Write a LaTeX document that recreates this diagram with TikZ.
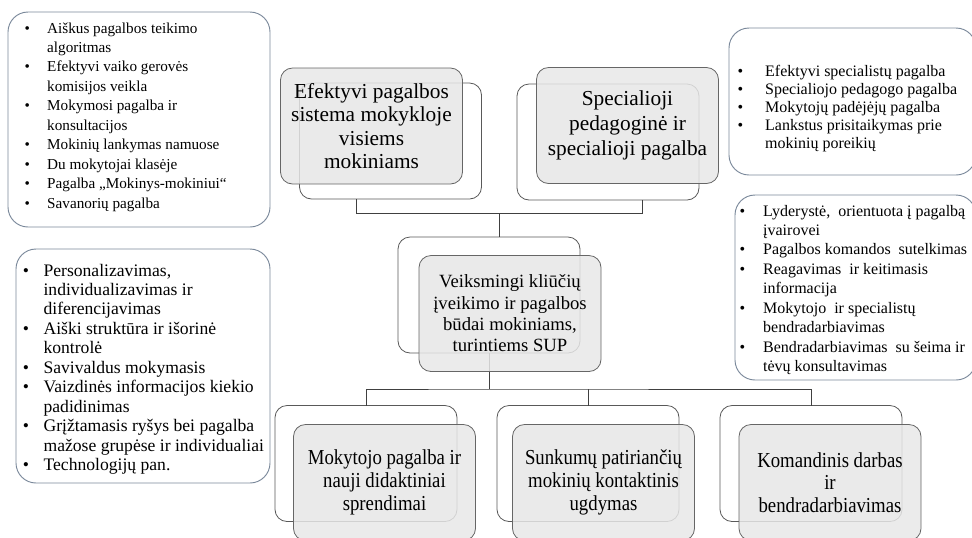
\documentclass[tikz,border=0pt]{standalone}
\usepackage{fontspec}
\setmainfont{Liberation Serif}
\newfontfamily\condserif[FakeStretch=0.88]{Liberation Serif}
\usetikzlibrary{calc}

\definecolor{listedge}{RGB}{122,136,154}
\definecolor{boxfill}{RGB}{231,231,231}

\tikzset{
	lobox/.style={draw=black!65, fill=white, rounded corners=9pt, line width=0.6pt,
		minimum width=136.5pt, minimum height=87pt, outer sep=0pt},
	hibox/.style={draw=black!60, fill=boxfill, fill opacity=0.85, text opacity=1,
		rounded corners=9pt, line width=0.6pt, minimum width=136.5pt, minimum height=87pt,
		align=center, inner sep=2pt, outer sep=0pt},
	listbox/.style={draw=listedge, line width=0.7pt, rounded corners=15pt},
	listtext/.style={inner sep=0pt, anchor=base west, font=\fontsize{11.4}{14.6}\selectfont},
	link/.style={draw=black!75, line width=0.7pt}
}

\begin{document}
\begin{tikzpicture}[x=0.75pt, y=-0.75pt]
			%%%%% START %%%%%
			\useasboundingbox (0,0) rectangle (972,537);
			
			\draw[listbox] (8,12) rectangle (270,227);
			\node[listtext] (lstA) at (24.3,33) {\begin{tabular}[t]{@{}l@{\hspace{13pt}}l@{}}
				\textbullet & Aiškus pagalbos teikimo\\
				& algoritmas\\
				\textbullet & Efektyvi vaiko gerovės\\
				& komisijos veikla\\
				\textbullet & Mokymosi pagalba ir\\
				& konsultacijos\\
				\textbullet & Mokinių lankymas namuose\\
				\textbullet & Du mokytojai klasėje\\
				\textbullet & Pagalba „Mokinys-mokiniui“\\
				\textbullet & Savanorių pagalba
			\end{tabular}};
			
			\draw[listbox] (16,249) rectangle (270,483);
			\node[listtext, font=\fontsize{13.2}{14.6}\selectfont] (lstB) at (22.5,276) {\begin{tabular}[t]{@{}l@{\hspace{11pt}}l@{}}
				\textbullet & Personalizavimas,\\
				& individualizavimas ir\\
				& diferencijavimas\\
				\textbullet & Aiški struktūra ir išorinė\\
				& kontrolė\\
				\textbullet & Savivaldus mokymasis\\
				\textbullet & Vaizdinės informacijos kiekio\\
				& padidinimas\\
				\textbullet & Grįžtamasis ryšys bei pagalba\\
				& mažose grupėse ir individualiai\\
				\textbullet & Technologijų pan.
			\end{tabular}};
			
			\draw[listbox] (729,28) rectangle (976,175);
			\node[listtext, font=\fontsize{12}{13.5}\selectfont] (lstC) at (737.3,76) {\begin{tabular}[t]{@{}l@{\hspace{16.5pt}}l@{}}
				\textbullet & Efektyvi specialistų pagalba\\
				\textbullet & Specialiojo pedagogo pagalba\\
				\textbullet & Mokytojų padėjėjų pagalba\\
				\textbullet & Lankstus prisitaikymas prie\\
				& mokinių poreikių
			\end{tabular}};
			
			\draw[listbox] (735,195) rectangle (976,380);
			\node[listtext, font=\fontsize{12}{14.6}\selectfont] (lstD) at (739.3,216) {\begin{tabular}[t]{@{}l@{\hspace{13.5pt}}l@{}}
				\textbullet & Lyderystė,\ \ orientuota į pagalbą\\
				& įvairovei\\
				\textbullet & Pagalbos komandos\ \ sutelkimas\\
				\textbullet & Reagavimas\ \ ir keitimasis\\
				& informacija\\
				\textbullet & Mokytojo\ \ ir specialistų\\
				& bendradarbiavimas\\
				\textbullet & Bendradarbiavimas\ \ su šeima ir\\
				& tėvų konsultavimas
			\end{tabular}};
			
			% back boxes
			\node[lobox] (efout) at (390.5,141) {};
			\node[lobox] (spout) at (608,142) {};
			\node[lobox] (vkout) at (489,295) {};
			\node[lobox] (b1out) at (366,463.5) {};
			\node[lobox] (b2out) at (588,463.5) {};
			\node[lobox] (b3out) at (811,463.5) {};
			
			% connectors
			\coordinate (tl) at (356,213);
			\coordinate (tr) at (642,213);
			\coordinate (tj) at (499,213);
			\coordinate (bj) at (489,389);
			\draw[link] (efout.south -| tl) -- (tl) -- (tr) -- (spout.south -| tr);
			\draw[link] (tj) -- (vkout.north -| tj);
			\draw[link] (vkout.south) -- (bj);
			\draw[link] (b1out.north) |- (bj) -| (b3out.north);
			\draw[link] (bj -| b2out.north) -- (b2out.north);
			
			% front boxes
			\node[hibox, font=\fontsize{16}{17.5}\selectfont] (efektyvi) at (371.5,126)
				{Efektyvi pagalbos\\sistema mokykloje\\visiems\\mokiniams};
			\node[hibox, font=\fontsize{16}{18.5}\selectfont] (special) at (627.5,125.5)
				{Specialioji\\pedagoginė ir\\specialioji pagalba};
			\node[hibox, font=\fontsize{14}{16}\selectfont] (veiksm) at (510,313.5)
				{Veiksmingi kliūčių\\įveikimo ir pagalbos\\būdai mokiniams,\\turintiems SUP};
			\node[hibox, font=\condserif\fontsize{16}{17}\selectfont] (mokyt) at (384.5,482.5)
				{Mokytojo pagalba ir\\nauji didaktiniai\\sprendimai};
			\node[hibox, font=\condserif\fontsize{16}{17}\selectfont] (sunk) at (603.5,482.5)
				{Sunkumų patiriančių\\mokinių kontaktinis\\ugdymas};
			\node[hibox, font=\condserif\fontsize{16}{17}\selectfont] (koman) at (830,482.5)
				{Komandinis darbas\\ir\\bendradarbiavimas};
			%%%%% END %%%%%
		\end{tikzpicture}
\end{document}
